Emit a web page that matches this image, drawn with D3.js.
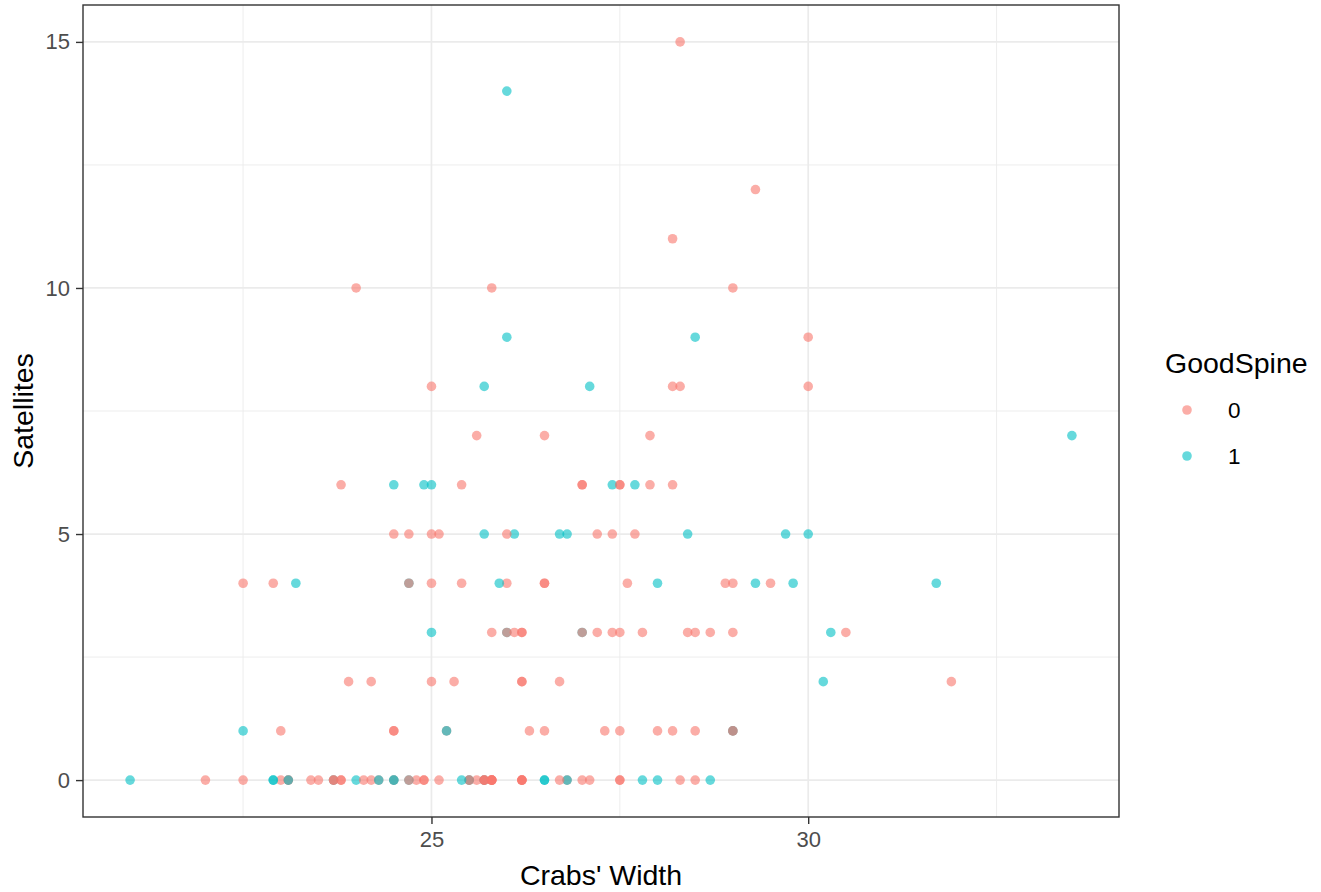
<!DOCTYPE html>
<html>
<head>
<meta charset="utf-8">
<script src="https://cdn.jsdelivr.net/npm/d3@7"></script>
<style>
  html, body { margin: 0; padding: 0; background: #fff; }
  svg { display: block; font-family: "Liberation Sans", Arial, sans-serif; }
</style>
</head>
<body>
<svg id="chart" width="1321" height="892"></svg>
<script>
// Horseshoe crab records: carapace width, satellite count, spine condition (1/2/3)
const width = [28.3,22.5,26.0,24.8,26.0,23.8,26.5,24.7,23.7,25.6,24.3,25.8,28.2,21.0,26.0,27.1,25.2,29.0,24.7,27.4,
  23.2,25.0,22.5,26.7,25.8,26.2,28.7,26.8,27.5,24.9,29.3,25.8,25.7,25.7,26.7,23.7,26.8,27.5,23.4,27.9,
  27.5,26.1,27.7,30.0,28.5,28.9,28.2,25.0,28.5,30.3,24.7,27.7,27.4,22.9,25.7,28.3,27.2,26.2,27.8,25.5,
  27.1,24.5,27.0,26.0,28.0,30.0,29.0,26.2,26.5,26.2,25.6,23.0,23.0,25.4,24.2,22.9,26.0,25.4,25.7,25.1,
  24.5,27.5,23.1,25.9,25.8,27.0,28.5,25.5,23.5,24.0,29.7,26.8,26.7,28.7,23.1,29.0,25.5,26.5,24.5,28.5,
  28.2,24.5,27.5,24.7,25.2,27.3,26.3,29.0,25.3,26.5,27.8,27.0,25.7,25.0,31.9,23.7,29.3,22.0,25.0,27.0,
  23.8,30.2,26.2,24.2,27.4,25.4,28.4,22.5,26.2,24.9,24.5,25.1,28.0,25.8,27.9,24.9,28.4,27.2,25.0,27.5,
  33.5,30.5,29.0,24.3,25.8,25.0,31.7,29.5,24.0,30.0,27.6,26.2,23.1,22.9,24.5,24.7,28.3,23.9,23.8,29.8,
  26.5,26.0,28.2,25.7,26.5,25.8,24.1,26.2,26.1,29.0,28.0,27.0,24.5];
const satellites = [8,0,9,0,4,0,0,0,0,0,0,0,11,0,14,8,1,1,0,5,
  4,3,1,2,3,0,3,5,0,0,4,0,0,8,5,0,0,6,0,6,
  3,5,6,5,9,4,6,4,3,3,5,5,6,4,5,15,3,3,0,0,
  0,5,3,5,1,8,10,0,0,3,7,1,0,6,0,0,3,4,0,5,
  0,0,0,4,0,3,0,0,0,0,5,0,0,0,0,1,0,1,1,1,
  1,1,1,4,1,1,1,1,2,4,3,6,0,2,2,0,12,0,5,6,
  6,2,0,2,3,0,3,4,2,6,6,0,4,10,7,0,5,5,6,6,
  7,3,3,0,0,8,4,4,10,9,4,0,0,0,0,4,0,2,0,4,
  4,3,8,0,7,0,0,2,3,4,0,0,0];
const spine = [3,3,1,3,3,3,1,2,1,3,3,3,3,2,1,1,3,3,3,3,
  2,2,1,3,3,3,3,1,3,3,1,3,2,1,1,3,3,3,3,3,
  3,1,1,1,1,3,3,3,3,1,3,3,1,3,1,3,3,3,1,3,
  3,3,1,3,3,3,3,3,1,3,3,3,3,3,3,2,2,3,3,3,
  2,3,3,1,3,3,3,1,3,2,1,1,3,1,3,1,3,3,3,3,
  3,3,3,2,1,3,3,3,3,3,3,3,3,3,3,3,3,3,3,3,
  3,1,3,3,3,2,3,3,3,1,2,3,1,3,3,3,1,3,2,3,
  1,3,3,1,3,3,1,3,3,3,3,3,1,1,3,3,3,3,3,2,
  3,3,3,3,3,3,3,3,3,3,1,3,2];

// A spine counts as good unless both sides are worn or broken
const goodSpine = spine.map(s => (s === 3 ? "0" : "1"));
const groups = ["0", "1"];
const groupColors = ["#F8766D", "#00BFC4"];
const xTicks = [25, 30];
const yTicks = [0, 5, 10, 15];
const xMinor = [22.5, 27.5, 32.5];
const yMinor = [2.5, 7.5, 12.5];

const crabs = width.map((w, i) => ({ w, s: satellites[i], g: goodSpine[i] }));

const svg = d3.select("#chart");
const panel = { left: 83, right: 1119, top: 5, bottom: 817 };
const FONT = "'Liberation Sans', Arial, sans-serif";

// 5% expansion around the data range on both axes
const xExt = d3.extent(width), yExt = d3.extent(satellites);
const xPad = (xExt[1] - xExt[0]) * 0.05, yPad = (yExt[1] - yExt[0]) * 0.05;
const x = d3.scaleLinear().domain([xExt[0] - xPad, xExt[1] + xPad]).range([panel.left, panel.right]);
const y = d3.scaleLinear().domain([yExt[0] - yPad, yExt[1] + yPad]).range([panel.bottom, panel.top]);
const color = d3.scaleOrdinal().domain(groups).range(groupColors);

// panel background and grid
svg.append("rect").attr("x", panel.left).attr("y", panel.top)
  .attr("width", panel.right - panel.left).attr("height", panel.bottom - panel.top).attr("fill", "#fff");

const grid = svg.append("g");
function vLines(vals, w) {
  grid.append("g").selectAll("line").data(vals).join("line")
    .attr("x1", d => x(d)).attr("x2", d => x(d)).attr("y1", panel.top).attr("y2", panel.bottom)
    .attr("stroke", "#EBEBEB").attr("stroke-width", w);
}
function hLines(vals, w) {
  grid.append("g").selectAll("line").data(vals).join("line")
    .attr("y1", d => y(d)).attr("y2", d => y(d)).attr("x1", panel.left).attr("x2", panel.right)
    .attr("stroke", "#EBEBEB").attr("stroke-width", w);
}
vLines(xMinor, 0.9); hLines(yMinor, 0.9);
vLines(xTicks, 1.7); hLines(yTicks, 1.7);

// points
svg.append("g").selectAll("circle").data(crabs).join("circle")
  .attr("cx", d => x(d.w)).attr("cy", d => y(d.s)).attr("r", 4.8)
  .attr("fill", d => color(d.g)).attr("fill-opacity", 0.6);

// panel border
svg.append("rect").attr("x", panel.left).attr("y", panel.top)
  .attr("width", panel.right - panel.left).attr("height", panel.bottom - panel.top)
  .attr("fill", "none").attr("stroke", "#333333").attr("stroke-width", 1.4);

// axes
const xAxis = svg.append("g").attr("transform", `translate(0,${panel.bottom})`)
  .call(d3.axisBottom(x).tickValues(xTicks).tickSize(7).tickPadding(6));
const yAxis = svg.append("g").attr("transform", `translate(${panel.left},0)`)
  .call(d3.axisLeft(y).tickValues(yTicks).tickSize(7).tickPadding(6));
[xAxis, yAxis].forEach(a => {
  a.select(".domain").remove();
  a.selectAll(".tick line").attr("stroke", "#333333").attr("stroke-width", 1.4);
  a.selectAll(".tick text").attr("fill", "#4D4D4D")
    .attr("font-size", null).attr("font-family", null)
    .style("font-size", "22px").style("font-family", FONT);
});
xAxis.selectAll(".tick text").attr("dy", "0.78em");

// axis titles
svg.append("text").attr("x", (panel.left + panel.right) / 2).attr("y", 885)
  .attr("text-anchor", "middle").attr("fill", "#000")
  .style("font-size", "28.5px").style("font-family", FONT).text("Crabs' Width");
svg.append("text").attr("transform", `translate(33,${(panel.top + panel.bottom) / 2}) rotate(-90)`)
  .attr("text-anchor", "middle").attr("fill", "#000")
  .style("font-size", "28.5px").style("font-family", FONT).text("Satellites");

// legend
const legend = svg.append("g").attr("transform", "translate(1165,0)");
legend.append("text").attr("x", 0).attr("y", 373).attr("fill", "#000")
  .style("font-size", "28.5px").style("font-family", FONT).text("GoodSpine");
const keys = legend.selectAll(".key").data(groups).join("g")
  .attr("transform", (d, i) => `translate(0,${410 + i * 46})`);
keys.append("circle").attr("cx", 22).attr("cy", 0).attr("r", 4.8)
  .attr("fill", d => color(d)).attr("fill-opacity", 0.6);
keys.append("text").attr("x", 63).attr("y", 8).attr("fill", "#000")
  .style("font-size", "22.5px").style("font-family", FONT).text(d => d);
</script>
</body>
</html>
